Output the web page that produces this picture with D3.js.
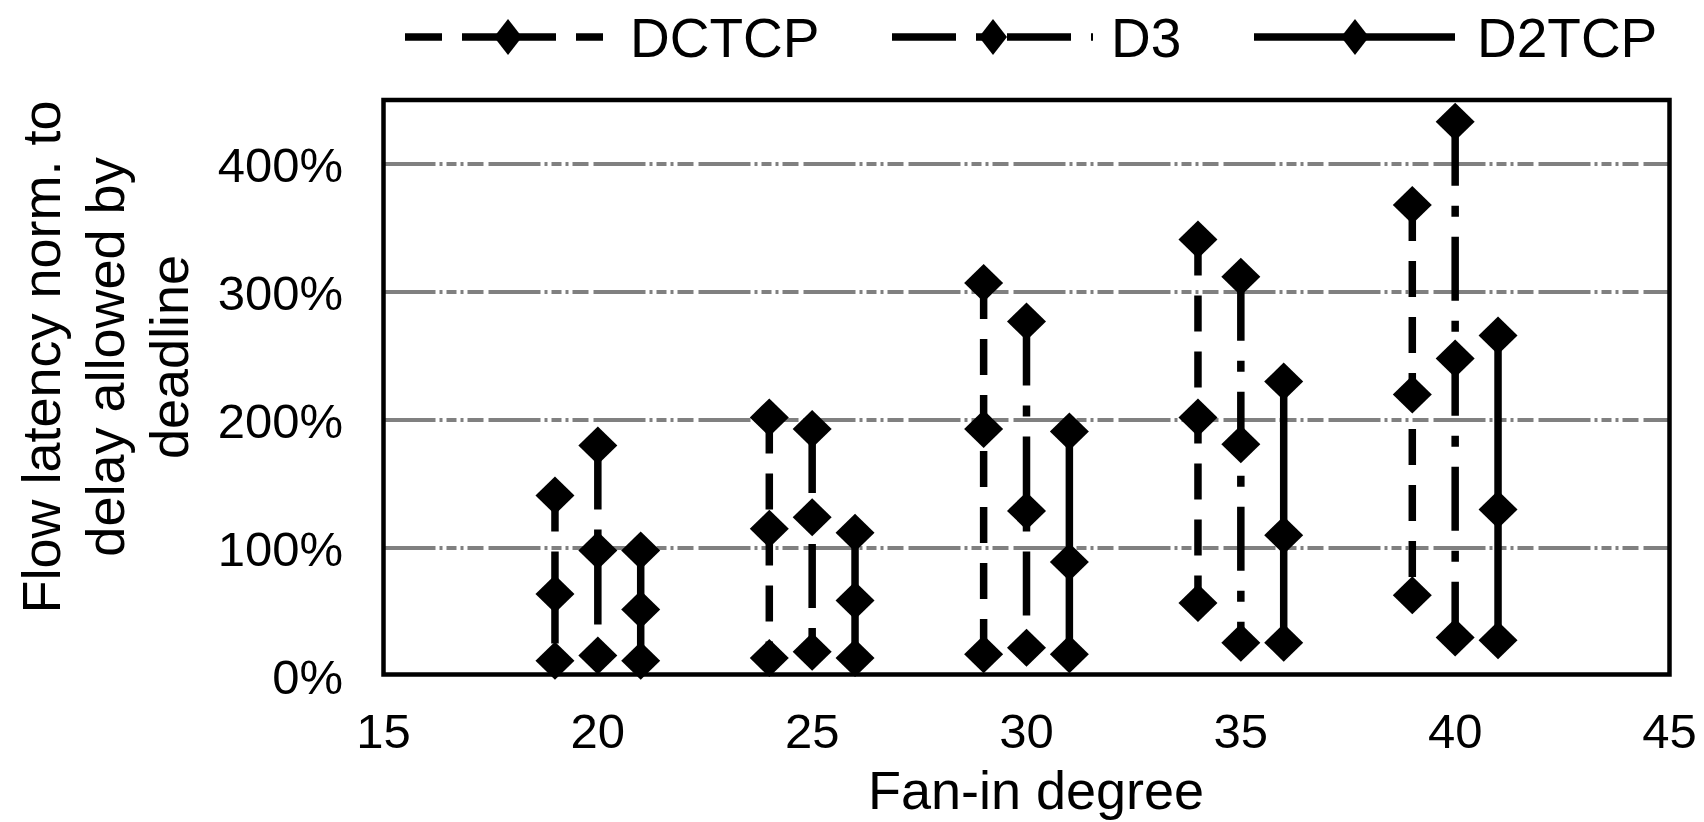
<!DOCTYPE html>
<html>
<head>
<meta charset="utf-8">
<script src="https://cdn.jsdelivr.net/npm/d3@7"></script>
<style>
  html, body { margin: 0; padding: 0; background: #fff; }
  text { font-family: "Liberation Sans", Arial, sans-serif; fill: #000; }
</style>
</head>
<body>
<div id="main"></div>
<script>
// fan-in degree, each protocol plotted with a small offset
var dctcpX = [19, 24, 29, 34, 39];
var d3X = [20, 25, 30, 35, 40];
var d2tcpX = [21, 26, 31, 36, 41];

// latency percentages: [min, mid, max] per fan-in
var dctcpMin = [12, 14, 17, 57, 63];
var dctcpMid = [64, 115, 193, 202, 220];
var dctcpMax = [141, 202, 307, 341, 368];

var d3Min = [16, 19, 22, 26, 30];
var d3Mid = [98, 124, 129, 181, 248];
var d3Max = [180, 193, 277, 312, 433];

var d2tcpMin = [12, 14, 17, 26, 28];
var d2tcpMid = [52, 59, 89, 110, 130];
var d2tcpMax = [98, 112, 191, 230, 266];

var xTicks = [15, 20, 25, 30, 35, 40, 45];
var yTicks = [0, 100, 200, 300, 400];
var gridTicks = [100, 200, 300, 400];

var seriesNames = ['DCTCP', 'D3', 'D2TCP'];

function Sketch() {
  this.width = 1704;
  this.height = 822;
  this.left = 383.5;
  this.right = 1669.5;
  this.top = 100;
  this.bottom = 676;
}

Sketch.prototype.init = function() {
  this.svg = d3.select('#main')
    .append('svg')
    .attr('width', this.width)
    .attr('height', this.height);

  this.x = d3.scaleLinear().domain([15, 45]).range([this.left, this.right]);
  this.y = d3.scaleLinear().domain([0, 450]).range([this.bottom, this.top]);
};

Sketch.prototype.update = function() {
  function build(name, xs, mins, mids, maxs, dash) {
    return {
      name: name,
      dash: dash,
      points: xs.map(function(x, i) {
        return {x: x, lo: mins[i], mid: mids[i], hi: maxs[i]};
      })
    };
  }
  this.data = [
    build(seriesNames[0], dctcpX, dctcpMin, dctcpMid, dctcpMax, '36,20'),
    build(seriesNames[1], d3X, d3Min, d3Mid, d3Max, '64,20,11,20'),
    build(seriesNames[2], d2tcpX, d2tcpMin, d2tcpMid, d2tcpMax, null)
  ];
};

function diamond(cx, cy, hw, hh) {
  return 'M' + cx + ',' + (cy - hh) + 'L' + (cx + hw) + ',' + cy +
    'L' + cx + ',' + (cy + hh) + 'L' + (cx - hw) + ',' + cy + 'Z';
}

Sketch.prototype.render = function() {
  var x = this.x, y = this.y;
  var svg = this.svg;

  // grid
  svg.append('g').attr('class', 'grid')
    .selectAll('line')
    .data(gridTicks)
    .enter()
    .append('line')
    .attr('x1', this.left)
    .attr('x2', this.right)
    .attr('y1', function(d) { return y(d); })
    .attr('y2', function(d) { return y(d); })
    .attr('stroke', '#808080')
    .attr('stroke-width', 4)
    .attr('stroke-dasharray', '52,4,3,4,10,4,3,4,16,5');

  // frame
  svg.append('rect')
    .attr('x', this.left)
    .attr('y', this.top)
    .attr('width', this.right - this.left)
    .attr('height', this.bottom - 1.5 - this.top)
    .attr('fill', 'none')
    .attr('stroke', '#000')
    .attr('stroke-width', 4.5);

  // y tick labels
  svg.append('g')
    .selectAll('text')
    .data(yTicks)
    .enter()
    .append('text')
    .attr('x', 343)
    .attr('y', function(d) { return y(d); })
    .attr('dy', '0.36em')
    .attr('text-anchor', 'end')
    .attr('font-size', 49)
    .text(function(d) { return d + '%'; });

  // x tick labels
  svg.append('g')
    .selectAll('text')
    .data(xTicks)
    .enter()
    .append('text')
    .attr('x', function(d) { return x(d); })
    .attr('y', 748)
    .attr('text-anchor', 'middle')
    .attr('font-size', 49)
    .text(function(d) { return d; });

  svg.append('text')
    .attr('x', 1036)
    .attr('y', 809)
    .attr('text-anchor', 'middle')
    .attr('font-size', 54)
    .text('Fan-in degree');

  var yTitle = ['Flow latency norm. to', 'delay allowed by', 'deadline'];
  svg.append('g')
    .selectAll('text')
    .data(yTitle)
    .enter()
    .append('text')
    .attr('transform', function(d, i) { return 'translate(' + (60 + i * 64) + ',357) rotate(-90)'; })
    .attr('text-anchor', 'middle')
    .attr('font-size', 54)
    .text(function(d) { return d; });

  // series
  var groups = svg.selectAll('g.series')
    .data(this.data)
    .enter()
    .append('g')
    .attr('class', 'series');

  groups.selectAll('line')
    .data(function(d) { return d.points.map(function(p) { return {p: p, dash: d.dash}; }); })
    .enter()
    .append('line')
    .attr('x1', function(d) { return x(d.p.x); })
    .attr('x2', function(d) { return x(d.p.x); })
    .attr('y1', function(d) { return y(d.p.hi); })
    .attr('y2', function(d) { return y(d.p.lo); })
    .attr('stroke', '#000')
    .attr('stroke-width', 7.5)
    .attr('stroke-dasharray', function(d) { return d.dash; });

  groups.selectAll('path')
    .data(function(d) {
      var out = [];
      d.points.forEach(function(p) {
        out.push({x: p.x, v: p.lo}, {x: p.x, v: p.mid}, {x: p.x, v: p.hi});
      });
      return out;
    })
    .enter()
    .append('path')
    .attr('d', function(d) { return diamond(x(d.x), y(d.v), 19.5, 19); })
    .attr('fill', '#000');

  // legend
  var legend = [
    {name: seriesNames[0], x1: 405, x2: 603, mk: 508, tx: 630, dash: '37,20'},
    {name: seriesNames[1], x1: 892, x2: 1093, mk: 993, tx: 1111, dash: '64,20,11,20'},
    {name: seriesNames[2], x1: 1254, x2: 1455, mk: 1355, tx: 1477, dash: null}
  ];
  var lg = svg.append('g').attr('class', 'legend')
    .selectAll('g')
    .data(legend)
    .enter()
    .append('g');

  lg.append('line')
    .attr('x1', function(d) { return d.x1; })
    .attr('x2', function(d) { return d.x2; })
    .attr('y1', 37)
    .attr('y2', 37)
    .attr('stroke', '#000')
    .attr('stroke-width', 7.5)
    .attr('stroke-dasharray', function(d) { return d.dash; });

  lg.append('path')
    .attr('d', function(d) { return diamond(d.mk, 37, 14, 18); })
    .attr('fill', '#000');

  lg.append('text')
    .attr('x', function(d) { return d.tx; })
    .attr('y', 57)
    .attr('font-size', 55)
    .text(function(d) { return d.name; });
};

document.addEventListener('DOMContentLoaded', function() {
  var s = new Sketch();
  s.init();
  s.update();
  s.render();
});
</script>
</body>
</html>
